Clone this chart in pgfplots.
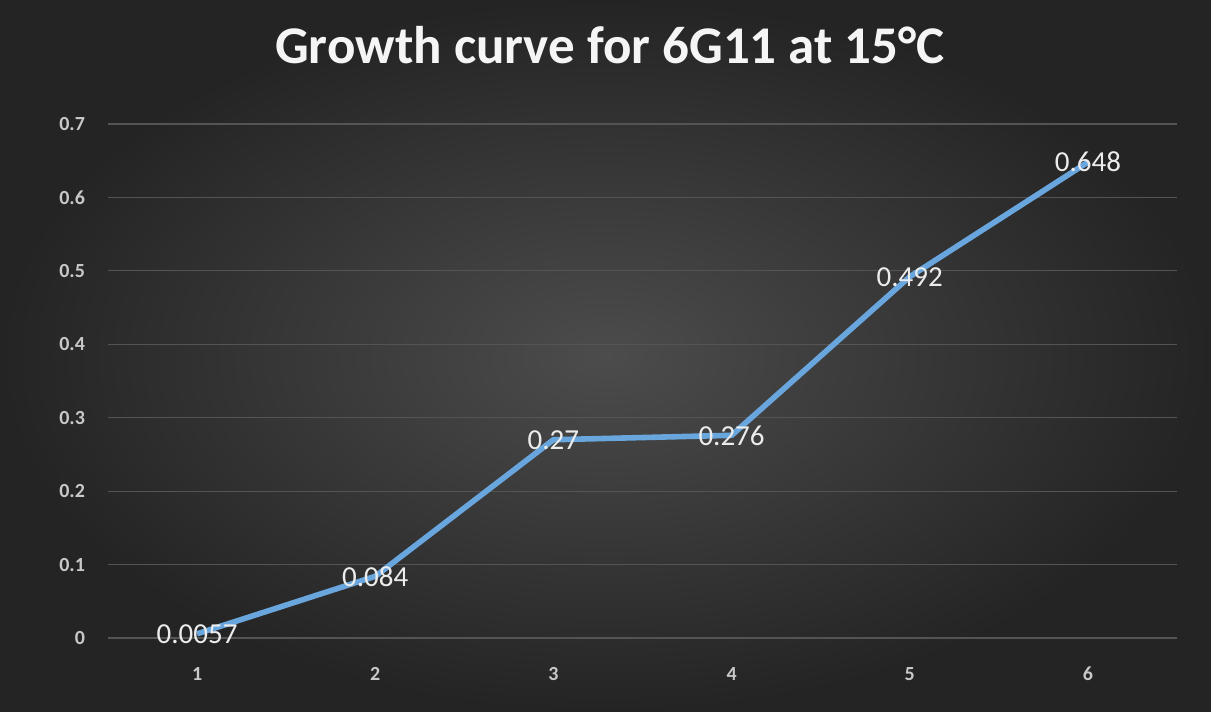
\documentclass[border=0pt]{standalone}
\usepackage{fontspec}
\setmainfont{Carlito}
\usepackage{pgfplots}
\pgfplotsset{compat=1.18}
\usepackage{pgfplotstable}
\definecolor{bgin}{HTML}{4C4C4C}
\definecolor{bgout}{HTML}{242424}
\definecolor{gridc}{HTML}{545454}
\definecolor{tickc}{HTML}{C8C8C8}
\definecolor{linec}{HTML}{6AA6DE}
\pgfplotstableread{
x y lab
1 0.0057 0.0057
2 0.084 0.084
3 0.27 0.27
4 0.276 0.276
5 0.492 0.492
6 0.648 0.648
}\growth
\begin{document}
\begin{tikzpicture}
\shade[inner color=bgin, outer color=bgout] (0pt,0pt) rectangle (605.5pt,356pt);
\node[font=\bfseries\fontsize{26.5}{31}\selectfont, text=white!92!gray] at (305pt,333.5pt) {Growth curve for 6G11 at 15°C};
\begin{axis}[
  at={(54pt,37pt)}, anchor=south west,
  scale only axis,
  width=534.5pt, height=257pt,
  xmin=0.5, xmax=6.5, ymin=0, ymax=0.7,
  xtick={1,...,6},
  ytick={0,0.1,...,0.7},
  yticklabels={0,0.1,0.2,0.3,0.4,0.5,0.6,0.7},
  axis line style={draw=none},
  axis x line*=bottom,
  x axis line style={draw=gridc},
  ymajorgrids,
  grid style={gridc, line width=0.6pt},
  major tick length=0pt,
  tick label style={text=tickc, font=\bfseries\fontsize{10}{12}\selectfont},
  /pgf/number format/assume math mode=true,
  xticklabel style={yshift=-11pt},
  yticklabel style={xshift=-8pt},
  clip=false,
]
\addplot[linec, line width=2.8pt, line join=round,
  nodes near coords, point meta=explicit symbolic,
  every node near coord/.append style={anchor=center, text=white!85!gray, font=\fontsize{14.5}{16}\selectfont}]
  table[x=x, y=y, meta=lab] {\growth};
\end{axis}
\end{tikzpicture}
\end{document}
